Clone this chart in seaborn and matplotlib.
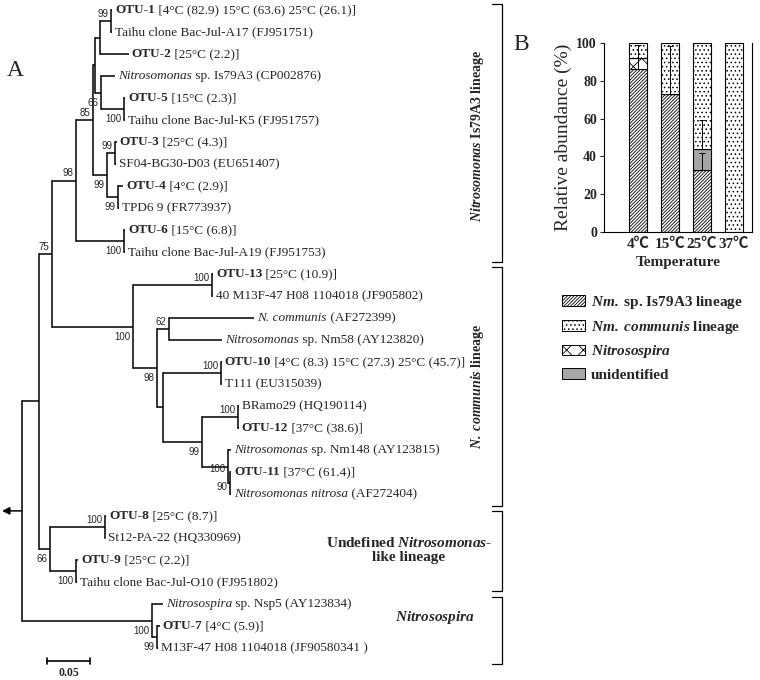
import re
import numpy as np
import pandas as pd
import seaborn as sns
import matplotlib.pyplot as plt
from matplotlib.patches import Patch

sns.set_style("ticks")
plt.rcParams["font.family"] = ["Liberation Serif", "Noto Sans CJK SC"]
plt.rcParams["mathtext.fontset"] = "custom"
plt.rcParams["mathtext.rm"] = "Liberation Serif"
plt.rcParams["mathtext.it"] = "Liberation Serif:italic"
plt.rcParams["mathtext.bf"] = "Liberation Serif:bold"
plt.rcParams["mathtext.bfit"] = "Liberation Serif:italic:bold"
plt.rcParams["hatch.linewidth"] = 0.6

# ---------------- panel A data: leaves (**bold**, *italic*) ----------------
leaves = [
    "**OTU-1** [4°C (82.9) 15°C (63.6) 25°C (26.1)]",
    "Taihu clone Bac-Jul-A17 (FJ951751)",
    "**OTU-2** [25°C (2.2)]",
    "*Nitrosomonas* sp. Is79A3 (CP002876)",
    "**OTU-5** [15°C (2.3)]",
    "Taihu clone Bac-Jul-K5 (FJ951757)",
    "**OTU-3** [25°C (4.3)]",
    "SF04-BG30-D03 (EU651407)",
    "**OTU-4** [4°C (2.9)]",
    "TPD6 9 (FR773937)",
    "**OTU-6** [15°C (6.8)]",
    "Taihu clone Bac-Jul-A19 (FJ951753)",
    "**OTU-13** [25°C (10.9)]",
    "40 M13F-47 H08 1104018 (JF905802)",
    "*N. communis* (AF272399)",
    "*Nitrosomonas* sp. Nm58 (AY123820)",
    "**OTU-10** [4°C (8.3) 15°C (27.3) 25°C (45.7)]",
    "T111 (EU315039)",
    "BRamo29 (HQ190114)",
    "**OTU-12** [37°C (38.6)]",
    "*Nitrosomonas* sp. Nm148 (AY123815)",
    "**OTU-11** [37°C (61.4)]",
    "*Nitrosomonas nitrosa* (AF272404)",
    "**OTU-8** [25°C (8.7)]",
    "St12-PA-22 (HQ330969)",
    "**OTU-9** [25°C (2.2)]",
    "Taihu clone Bac-Jul-O10 (FJ951802)",
    "*Nitrosospira* sp. Nsp5 (AY123834)",
    "**OTU-7** [4°C (5.9)]",
    "M13F-47 H08 1104018 (JF90580341 )",
]

# tree: node = (id, bootstrap, branch length, children); leaf = (leaf index, branch length)
tree = ("root", None, 0.0, [
    ("M", None, 0.020, [
        ("K", "75", 0.015, [
            ("F", "98", 0.028, [
                ("E", "85", 0.019, [
                    ("C", None, 0.003, [
                        ("A", None, 0.006, [
                            ("otu1", "99", 0.013, [(0, 0.001), (1, 0.001)]),
                            (2, 0.033)]),
                        ("B", "66", 0.007, [
                            (3, 0.016),
                            ("otu5", "100", 0.027, [(4, 0.001), (5, 0.001)])])]),
                    ("D", "99", 0.017, [
                        ("otu3", "99", 0.009, [(6, 0.002), (7, 0.001)]),
                        ("otu4", "99", 0.013, [(8, 0.006), (9, 0.001)])])]),
                ("otu6", "100", 0.056, [(10, 0.001), (11, 0.001)])]),
            ("J", "100", 0.094, [
                ("otu13", "100", 0.092, [(12, 0.001), (13, 0.001)]),
                ("I", "98", 0.028, [
                    ("comm", "62", 0.014, [(14, 0.099), (15, 0.062)]),
                    ("H", None, 0.007, [
                        ("otu10", "100", 0.067, [(16, 0.001), (17, 0.001)]),
                        ("G", "99", 0.045, [
                            ("otu12", "100", 0.042, [(18, 0.001), (19, 0.001)]),
                            ("nm148", "100", 0.031, [
                                (20, 0.003),
                                ("otu11", "90", 0.002, [(21, 0.001), (22, 0.001)])])])])])])]),
        ("L", "66", 0.013, [
            ("otu8", "100", 0.063, [(23, 0.002), (24, 0.001)]),
            ("otu9", "100", 0.030, [(25, 0.002), (26, 0.001)])])]),
    ("nsp", "100", 0.151, [
        (27, 0.013),
        ("otu7", "99", 0.006, [(28, 0.003), (29, 0.001)])])])

clades = ["$\\mathbfit{Nitrosomonas}$ Is79A3 lineage", "$\\mathbfit{N.\\ communis}$ lineage",
          "Undefined $\\mathbfit{Nitrosomonas}$-\nlike lineage", "$\\mathbfit{Nitrosospira}$"]

# ---------------- panel B data ----------------
temps = ["4℃", "15℃", "25℃", "37℃"]
is79a3 = [86, 73, 33, 0]
nitrosospira = [6, 0, 0, 0]
unidentified = [0, 0, 11, 0]
communis = [8, 27, 56, 100]
is79a3_err = [13, 25.5, 9, 0]
unidentified_err = [0, 0, 15, 0]
legend_labels = ["$\\mathbfit{Nm.}$ sp. Is79A3 lineage", "$\\mathbfit{Nm.\\ communis}$ lineage",
                 "$\\mathbfit{Nitrosospira}$", "unidentified"]

# layout (pixels)
X0, SCALE, Y0, ROW = 22, 860, 10, 22.0
LW = 1.1
above, below = -7, 10
sup_dy = {"otu1": above, "E": above, "otu3": above, "F": above, "K": above, "otu13": above,
          "comm": above, "otu10": above, "otu12": above, "otu8": above,
          "nm148": 2.5, "otu11": 4}

fig = plt.figure(figsize=(7.6, 6.8), dpi=100)
ax = fig.add_axes([0, 0, 1, 1])
ax.set_xlim(0, 760)
ax.set_ylim(680, 0)
ax.axis("off")

STY = {"b": dict(fontweight="bold"), "i": dict(fontstyle="italic"), "r": {}}


def rich(x, y, s, size=9.5):
    parts = [p for p in re.split(r"(\*\*.+?\*\*|\*.+?\*)", s) if p]
    prev = None
    for p in parts:
        if p.startswith("**"):
            txt, st = p[2:-2], "b"
        elif p.startswith("*"):
            txt, st = p[1:-1], "i"
        else:
            txt, st = p, "r"
        if prev is None:
            prev = ax.text(x, y, txt, va="center", ha="left", fontsize=size, **STY[st])
        else:
            prev = ax.annotate(txt, xy=(1, 0), xycoords=prev, va="bottom", ha="left",
                               fontsize=size, **STY[st])


def draw(node, depth):
    if len(node) == 2:
        idx, bl = node
        x0 = X0 + SCALE * depth
        x1 = X0 + SCALE * (depth + bl)
        y = Y0 + ROW * idx
        ax.plot([x0, x1], [y, y], color="black", lw=LW, solid_capstyle="butt")
        rich(x1 + 3, y, leaves[idx])
        return y
    nid, sup, bl, kids = node
    x0 = X0 + SCALE * depth
    x1 = X0 + SCALE * (depth + bl)
    ys = [draw(k, depth + bl) for k in kids]
    ym = (ys[0] + ys[-1]) / 2
    ax.plot([x1, x1], [ys[0], ys[-1]], color="black", lw=LW, solid_capstyle="projecting")
    ax.plot([x0, x1], [ym, ym], color="black", lw=LW, solid_capstyle="butt")
    if sup:
        ax.text(x1 - 2.5, ym + sup_dy.get(nid, below), sup, ha="right", va="center",
                fontsize=7, family="Liberation Sans")
    return ym


yroot = draw(tree, 0.0)
ax.annotate("", xy=(2, yroot), xytext=(X0, yroot),
            arrowprops=dict(arrowstyle="-|>", lw=1.1, color="black", mutation_scale=11,
                            shrinkA=0, shrinkB=0))

# scale bar 0.05
ax.plot([X0 + 25, X0 + 25 + SCALE * 0.05], [661, 661], color="black", lw=1.2)
for xe in (X0 + 25, X0 + 25 + SCALE * 0.05):
    ax.plot([xe, xe], [658, 664], color="black", lw=1.2)
ax.text(X0 + 25 + SCALE * 0.025, 673, "0.05", ha="center", va="center", fontsize=8.5,
        fontweight="bold")

# clade brackets
for top, bot in [(4, 262), (267, 506), (511, 591), (597, 664)]:
    ax.plot([492, 502, 502, 492], [top, top, bot, bot], color="black", lw=0.9)
ax.text(478, 136, clades[0], rotation=90, ha="center", va="center", fontsize=10,
        fontweight="bold")
ax.text(478, 386, clades[1], rotation=90, ha="center", va="center", fontsize=10,
        fontweight="bold")
ax.text(409, 550, clades[2], ha="center", va="center", fontsize=11, fontweight="bold",
        linespacing=1.15)
ax.text(435, 617, clades[3], ha="center", va="center", fontsize=11, fontweight="bold")

ax.text(15, 70, "A", ha="center", va="center", fontsize=17)
ax.text(521, 45, "B", ha="center", va="center", fontsize=17)

# ---------------- panel B ----------------
axb = fig.add_axes([604 / 760, 1 - 232 / 680, 148 / 760, 189 / 680])
df = pd.DataFrame({"Temperature": temps, "is79a3": is79a3, "nitrosospira": nitrosospira,
                   "unidentified": unidentified, "communis": communis})
layers = [("is79a3", "white", "//////////"), ("nitrosospira", "white", "xx"),
          ("unidentified", "#a6a6a6", ""), ("communis", "white", "....")]
bottom = np.zeros(len(temps))
tops = {}
for col, fc, hatch in layers:
    sns.barplot(data=df, x="Temperature", y=col, bottom=bottom.copy(), color=fc,
                saturation=1, hatch=hatch, edgecolor="black", linewidth=0.8,
                width=0.56, errorbar=None, ax=axb)
    bottom = bottom + df[col].to_numpy()
    tops[col] = bottom.copy()

pos = np.arange(len(temps))
for col, err in [("is79a3", is79a3_err), ("unidentified", unidentified_err)]:
    err = np.asarray(err, float)
    m = err > 0
    axb.errorbar(pos[m], tops[col][m], yerr=[np.zeros(m.sum()), err[m]], fmt="none",
                 ecolor="black", elinewidth=0.7, capsize=2.5, capthick=0.7)

axb.set_xlim(-1.06, 3.57)
axb.set_ylim(0, 100)
axb.set_yticks([0, 20, 40, 60, 80, 100])
axb.set_yticklabels(["0", "20", "40", "60", "80", "100"], fontweight="bold", fontsize=10)
axb.set_xticks(pos)
axb.set_xticklabels(temps, fontweight="bold", fontsize=11)
axb.tick_params(axis="x", length=0, pad=4)
axb.tick_params(axis="y", length=3, width=0.8, pad=2)
axb.set_xlabel("Temperature", fontweight="bold", fontsize=11, labelpad=4)
axb.set_ylabel("Relative abundance (%)", fontsize=14, labelpad=3)
for side in ["left", "bottom", "right"]:
    axb.spines[side].set_linewidth(0.8)
    axb.spines[side].set_color("black")
axb.spines["top"].set_visible(False)

handles = [Patch(facecolor="white", edgecolor="black", hatch="//////////", lw=0.7),
           Patch(facecolor="white", edgecolor="black", hatch="....", lw=0.7),
           Patch(facecolor="white", edgecolor="black", hatch="xx", lw=0.7),
           Patch(facecolor="#a6a6a6", edgecolor="black", lw=0.7)]
fig.legend(handles, legend_labels, loc="upper left", bbox_to_anchor=(562 / 760, 1 - 294 / 680),
           frameon=False, prop=dict(family="Liberation Serif", weight="bold", size=11),
           handlelength=1.5, handleheight=0.7, handletextpad=0.4, labelspacing=0.5,
           borderaxespad=0, borderpad=0)

fig.savefig("out.png", dpi=100)
